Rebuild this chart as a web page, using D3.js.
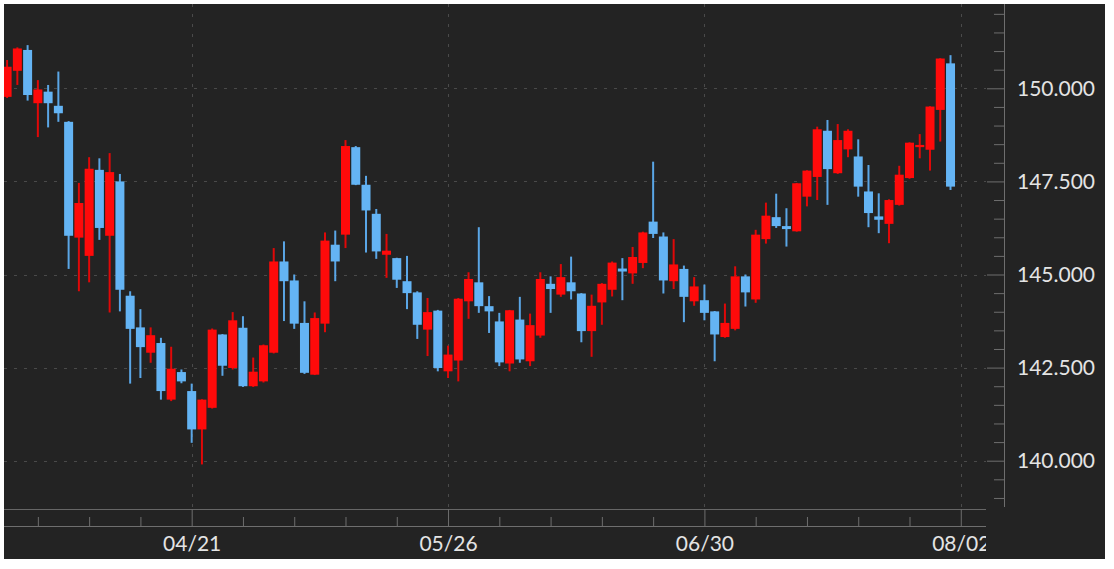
<!DOCTYPE html>
<html>
<head>
<meta charset="utf-8">
<script src="https://cdn.jsdelivr.net/npm/d3@7"></script>
<style>
  html, body { margin: 0; padding: 0; background: #ffffff; }
  svg { display: block; }
  text { font-family: Lato, "Open Sans", sans-serif; }
</style>
</head>
<body>
<svg id="chart" width="1114" height="569"></svg>
<script>
// ---- data (one candle per trading day, index 0..92) ----
const openVals = [149.77,150.47,151.03,149.60,149.91,149.53,149.10,145.99,145.50,147.81,
  146.04,147.50,144.43,143.58,142.90,143.16,141.64,142.38,141.87,140.84,
  141.42,143.39,142.49,143.57,142.00,142.13,142.90,145.35,144.84,143.70,
  142.31,143.68,145.80,146.07,148.42,147.41,146.63,145.53,145.44,144.82,
  144.52,143.52,144.03,142.40,142.69,144.28,144.79,144.15,143.74,142.61,
  143.79,142.67,143.36,144.75,144.46,144.79,144.49,143.48,144.25,144.59,
  145.16,145.03,145.31,146.42,146.02,144.82,145.15,144.28,144.31,144.01,
  143.32,143.54,144.95,144.33,145.95,146.54,146.30,146.16,147.09,147.62,
  148.86,147.72,148.36,148.17,147.23,146.56,146.36,146.87,147.59,148.42,
  148.35,149.42,150.67];
const highVals = [150.76,151.10,151.16,150.22,150.09,150.45,149.12,147.46,148.15,148.12,
  148.26,147.70,144.55,144.07,143.58,143.30,143.06,142.45,142.07,141.65,
  143.55,143.40,143.99,143.88,142.77,143.12,145.71,145.89,145.00,144.28,
  143.98,146.13,146.18,148.61,148.45,147.65,146.76,146.09,145.45,145.50,
  144.55,144.37,144.05,143.09,144.37,145.06,146.27,144.42,143.97,144.05,
  144.40,143.95,145.06,144.95,145.28,145.48,144.50,144.46,144.77,145.35,
  145.44,145.74,146.15,148.03,146.13,145.95,145.24,144.93,144.73,144.02,
  144.22,145.22,145.00,146.20,146.93,147.17,146.78,147.46,147.80,148.97,
  149.15,149.04,148.90,148.63,147.94,147.18,147.02,147.92,148.55,148.77,
  149.52,150.81,150.89];
const lowVals = [149.74,150.09,149.67,148.69,148.95,149.10,145.15,144.55,144.79,145.93,
  143.98,144.01,142.07,142.22,142.63,141.64,141.60,142.08,140.48,139.90,
  141.40,142.28,142.45,141.98,141.98,142.10,142.88,143.75,143.54,142.33,
  142.30,143.45,144.82,145.71,147.40,145.59,145.42,144.91,144.64,144.07,
  143.27,142.81,142.40,142.22,142.13,143.81,143.97,143.43,142.54,142.40,
  142.63,142.54,143.30,143.97,144.40,144.33,143.18,142.79,143.65,144.41,
  144.31,144.75,145.17,145.98,144.49,144.61,143.72,144.16,143.77,142.67,
  143.30,143.50,144.14,144.24,145.83,146.25,145.75,146.15,146.83,147.00,
  146.87,147.70,148.15,147.09,146.27,146.11,145.84,146.85,147.57,148.12,
  147.79,148.57,147.27];
const closeVals = [150.58,151.07,149.82,149.97,149.60,149.33,146.04,146.92,147.84,146.25,
  147.75,144.59,143.54,143.05,143.37,141.87,142.47,142.13,140.84,141.64,
  143.52,142.55,143.77,142.00,142.39,143.10,145.35,144.82,143.68,142.36,
  143.83,145.91,145.35,148.45,147.41,146.72,145.62,145.64,144.86,144.50,
  143.65,143.99,142.49,142.85,144.35,144.88,144.15,144.01,142.64,144.04,
  142.72,143.64,144.88,144.61,144.93,144.55,143.48,144.16,144.75,145.32,
  145.08,145.47,146.13,146.09,144.84,145.27,144.40,144.68,143.97,143.39,
  143.70,144.95,144.52,146.07,146.58,146.30,146.22,147.45,147.79,148.90,
  147.83,148.61,148.86,147.36,146.65,146.47,147.00,147.68,148.54,148.48,
  149.51,150.80,147.36];

// x-axis: labelled ticks (candle index) and weekly minor ticks
const dateTickIndex = [18, 43, 68, 93];
const dateTickLabels = ["04/21", "05/26", "06/30", "08/02"];
const weekTickIndex = [3, 8, 13, 23, 28, 33, 38, 48, 53, 58, 63, 73, 78, 83, 88];
// y-axis: labelled and minor price ticks
const priceLabelTicks = [140, 142.5, 145, 147.5, 150];
const priceMinorTicks = [139, 139.5, 140.5, 141, 141.5, 142, 143, 143.5, 144, 144.5,
  145.5, 146, 146.5, 147, 148, 148.5, 149, 149.5, 150.5, 151, 151.5, 152];

// ---- layout ----
const COL_UP = "#ff0a0a", COL_DOWN = "#64b4f4";
const plot = { left: 4, right: 986, top: 4, bottom: 509 };
const svg = d3.select("#chart");

svg.append("rect").attr("x", 4).attr("y", 4).attr("width", 1101).attr("height", 555)
  .attr("fill", "#232323");

const candles = openVals.map((o, i) => ({ i, o, h: highVals[i], l: lowVals[i], c: closeVals[i] }));

const x = d3.scaleLinear().domain([-0.302, 95.46]).range([plot.left, plot.right]);
const y = d3.scaleLinear().domain([138.703, 152.264]).range([plot.bottom, plot.top]);

const defs = svg.append("defs");
defs.append("clipPath").attr("id", "plotClip").append("rect")
  .attr("x", plot.left).attr("y", plot.top)
  .attr("width", plot.right - plot.left).attr("height", plot.bottom - plot.top);
defs.append("clipPath").attr("id", "xAxisClip").append("rect")
  .attr("x", plot.left).attr("y", plot.bottom)
  .attr("width", plot.right - plot.left).attr("height", 60);

// grid
const grid = svg.append("g").attr("stroke", "#4a4a4a").attr("stroke-width", 1)
  .attr("stroke-dasharray", "3,7");
grid.selectAll("line.h").data(priceLabelTicks).join("line").attr("class", "h")
  .attr("x1", plot.left).attr("x2", plot.right)
  .attr("y1", d => Math.round(y(d)) + 0.5).attr("y2", d => Math.round(y(d)) + 0.5);
grid.selectAll("line.v").data(dateTickIndex).join("line").attr("class", "v")
  .attr("y1", plot.top).attr("y2", plot.bottom)
  .attr("x1", d => Math.round(x(d)) + 0.5).attr("x2", d => Math.round(x(d)) + 0.5);

// candles
const cg = svg.append("g").attr("clip-path", "url(#plotClip)");
const bodyW = 9;
cg.selectAll("line.wick").data(candles).join("line").attr("class", "wick")
  .attr("x1", d => x(d.i)).attr("x2", d => x(d.i))
  .attr("y1", d => y(d.h)).attr("y2", d => y(d.l))
  .attr("stroke", d => d.c >= d.o ? "#e00808" : "#5aa6e6").attr("stroke-width", 2);
cg.selectAll("rect.body").data(candles).join("rect").attr("class", "body")
  .attr("x", d => x(d.i) - bodyW / 2).attr("width", bodyW)
  .attr("y", d => y(Math.max(d.o, d.c)))
  .attr("height", d => Math.max(2, Math.abs(y(d.o) - y(d.c))))
  .attr("fill", d => d.c >= d.o ? COL_UP : COL_DOWN);

// plot bottom border
svg.append("line").attr("x1", plot.left).attr("x2", plot.right)
  .attr("y1", plot.bottom + 0.5).attr("y2", plot.bottom + 0.5)
  .attr("stroke", "#666").attr("stroke-width", 1);

// bottom axis
const axisY = 526;
const xa = svg.append("g").attr("transform", `translate(0,${axisY})`);
xa.append("g").call(d3.axisTop(x).tickValues(weekTickIndex).tickSize(9).tickSizeOuter(0).tickFormat(""));
xa.append("g").call(d3.axisTop(x).tickValues(dateTickIndex).tickSize(17).tickSizeOuter(0).tickFormat(""));
xa.selectAll("path.domain").attr("d", `M${plot.left},0.5H${plot.right}`);
const xlWrap = svg.append("g").attr("clip-path", "url(#xAxisClip)");
const xl = xlWrap.append("g").attr("transform", `translate(0,${axisY})`);
xl.call(d3.axisBottom(x).tickValues(dateTickIndex).tickSize(0).tickPadding(10)
  .tickFormat((d, k) => dateTickLabels[k]));
xl.select("path.domain").remove();
[xa, xl].forEach(g => {
  g.selectAll("line").attr("stroke", "#6e6e6e");
  g.selectAll("path.domain").attr("stroke", "#6e6e6e");
  g.selectAll("text").attr("fill", "#e4e4e4").attr("font-size", 21)
    .attr("font-family", "Lato, 'Open Sans', sans-serif");
});

// right axis
const axisX = 1004;
const ya = svg.append("g").attr("transform", `translate(${axisX},0)`);
ya.append("g").call(d3.axisLeft(y).tickValues(priceMinorTicks).tickSize(10).tickSizeOuter(0).tickFormat(""));
ya.append("g").call(d3.axisLeft(y).tickValues(priceLabelTicks).tickSize(17).tickSizeOuter(0).tickFormat(""));
ya.append("g").call(d3.axisRight(y).tickValues(priceLabelTicks).tickSize(0).tickPadding(13)
  .tickFormat(d3.format(".3f")));
ya.selectAll("path.domain").attr("d", "M0.5,4V507");
ya.selectAll("line").attr("stroke", "#6e6e6e");
ya.selectAll("path.domain").attr("stroke", "#6e6e6e");
ya.selectAll("text").attr("fill", "#e4e4e4").attr("font-size", 21)
  .attr("font-family", "Lato, 'Open Sans', sans-serif");
</script>
</body>
</html>
